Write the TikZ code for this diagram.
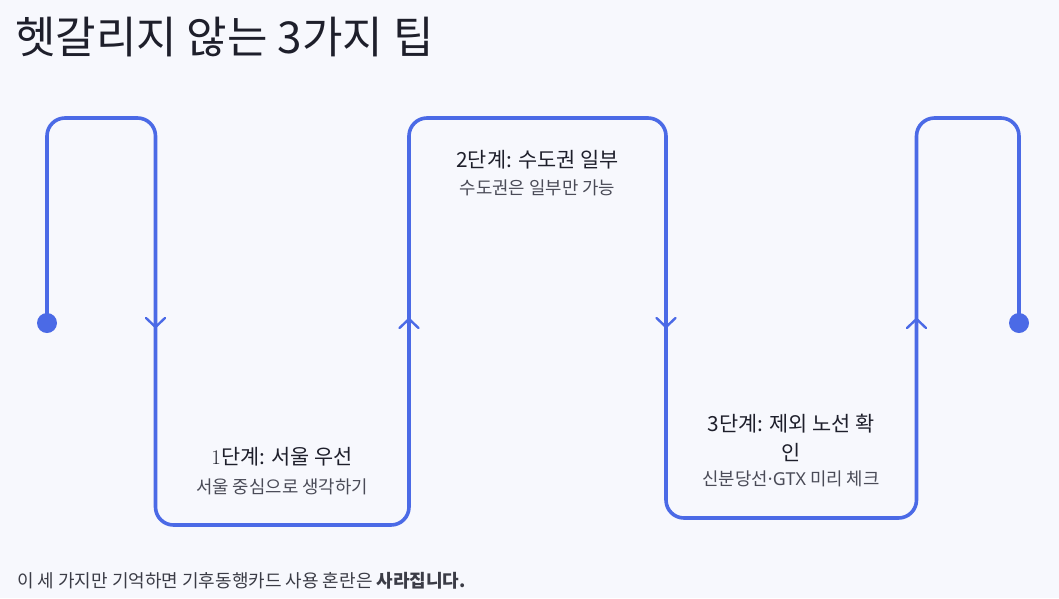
\documentclass[tikz,border=0pt]{standalone}
\usepackage{fontspec}
\newfontfamily\kr{Noto Sans CJK KR}
\newfontfamily\ns{Noto Sans}
\definecolor{bgc}{HTML}{F7F8FD}
\definecolor{flowc}{HTML}{4B6AE6}
\definecolor{titlec}{HTML}{1E1F2B}
\definecolor{subc}{HTML}{4A4B57}
\tikzset{
  flow/.style={draw=flowc, line width=3.6pt, line join=round},
  chev/.style={draw=flowc, line width=2.4pt, line cap=round, line join=miter},
  enddot/.style={circle, fill=flowc, minimum size=20pt, inner sep=0pt},
  steptitle/.style={font=\kr\fontsize{20.8}{29}\selectfont, text=titlec, align=center, inner sep=0pt},
  stepsub/.style={font=\kr\fontsize{17.8}{21}\selectfont, text=subc, align=center, inner sep=0pt}
}
\begin{document}
\begin{tikzpicture}[x=1pt,y=-1pt]
\fill[bgc] (0,0) rectangle (1059,598);
\useasboundingbox (0,0) rectangle (1059,598);
% title
\node[anchor=west, inner sep=0pt, font=\kr\fontsize{44}{50}\selectfont, text=titlec] (title) at (15,37) {헷갈리지 않는 3가지 팁};
% path corners
\coordinate (a1) at (47,118);
\coordinate (a2) at (155.5,118);
\coordinate (b1) at (155.5,525);
\coordinate (b2) at (409,525);
\coordinate (c1) at (409,118);
\coordinate (c2) at (666,118);
\coordinate (d1) at (666,518);
\coordinate (d2) at (916.5,518);
\coordinate (e1) at (916.5,118);
\coordinate (e2) at (1019,118);
\coordinate (sp) at (47,323);
\coordinate (ep) at (1019,323);
\draw[flow, rounded corners=18pt] (sp) -- (a1) -- (a2) -- (b1) -- (b2) -- (c1) -- (c2) -- (d1) -- (d2) -- (e1) -- (e2) -- (ep);
\node[enddot] (start) at (sp) {};
\node[enddot] (finish) at (ep) {};
% chevrons
\coordinate (v1) at (155.5,327);
\coordinate (v2) at (409,319);
\coordinate (v3) at (666,327);
\coordinate (v4) at (916.5,319);
\draw[chev] ([shift={(-9.5,-9)}]v1) -- (v1) -- ([shift={(9.5,-9)}]v1);
\draw[chev] ([shift={(-9.5,9)}]v2) -- (v2) -- ([shift={(9.5,9)}]v2);
\draw[chev] ([shift={(-9.5,-9)}]v3) -- (v3) -- ([shift={(9.5,-9)}]v3);
\draw[chev] ([shift={(-9.5,9)}]v4) -- (v4) -- ([shift={(9.5,9)}]v4);
% step texts
\node[steptitle] (t1) at (282,457) {{\normalfont 1}단계: 서울 우선};
\node[stepsub] (s1) at (282,487) {서울 중심으로 생각하기};
\node[steptitle] (t2) at (537.5,160) {2단계: 수도권 일부};
\node[stepsub] (s2) at (537.5,188) {수도권은 일부만 가능};
\node[steptitle] (t3) at (791,437.5) {3단계: 제외 노선 확\\인};
\node[stepsub] (s3) at (791,479) {신분당선{\ns·GTX} 미리 체크};
% footer
\node[anchor=west, inner sep=0pt, font=\kr\fontsize{18}{22}\selectfont, text=subc!80!black] (foot) at (17,581) {이 세 가지만 기억하면 기후동행카드 사용 혼란은 \textbf{사라집니다.}};
\end{tikzpicture}
\end{document}
